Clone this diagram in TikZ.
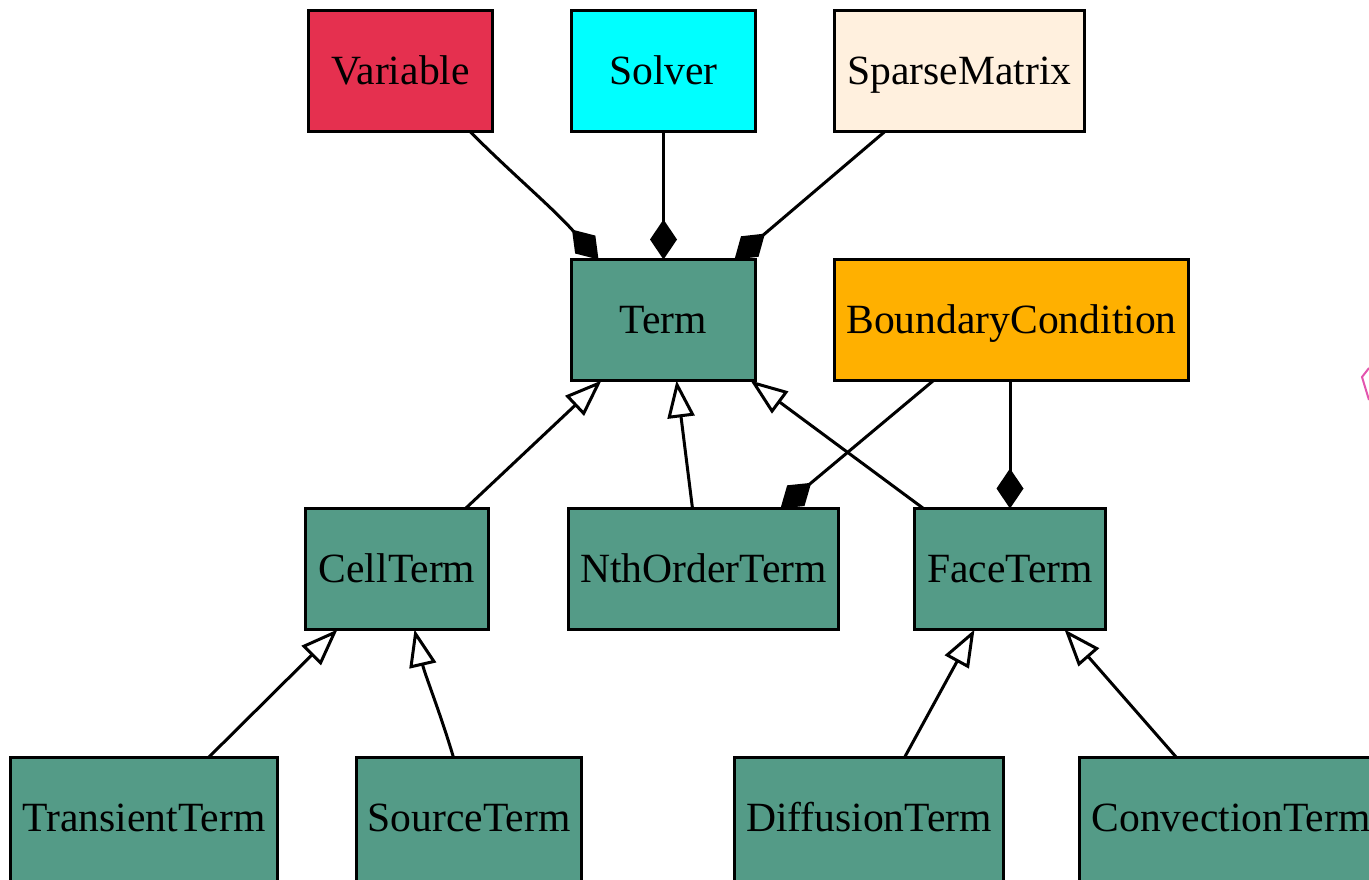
\documentclass[tikz,border=0pt]{standalone}
\usepackage{fontspec}
\setmainfont{Liberation Serif}
\usetikzlibrary{arrows.meta,calc,backgrounds}

\definecolor{termgreen}{HTML}{549B87}
\definecolor{varred}{HTML}{E5304F}
\definecolor{solvcyan}{HTML}{00FFFF}
\definecolor{sparsecream}{HTML}{FFF0DE}
\definecolor{bcorange}{HTML}{FFB000}
\definecolor{markpink}{HTML}{E354AE}

\tikzset{
  classbox/.style={draw=black, line width=3pt, inner sep=0pt, outer sep=0pt,
    minimum height=121pt, text height=27pt, text depth=0pt,
    font=\fontsize{41.6}{48}\selectfont},
  termbox/.style={classbox, fill=termgreen},
  leafbox/.style={termbox, minimum height=130pt, text depth=9pt},
  link/.style={line width=3pt, black},
  owns/.style={link, -{Diamond[length=40pt,width=27pt]}},
  isa/.style={link, -{Triangle[open,length=37pt,width=27pt,line width=3pt]}}
}

\begin{document}
\begin{tikzpicture}[x=1pt,y=-1pt]
  \path[use as bounding box, clip] (0,0) rectangle (1369,879);

  % collaborators
  \node[classbox, fill=varred, minimum width=184pt] (var) at (400.5,70.5) {Variable};
  \node[classbox, fill=solvcyan, minimum width=184pt] (solver) at (663.5,70.5) {Solver};
  \node[classbox, fill=sparsecream, minimum width=250pt] (sparse) at (959.5,70.5) {SparseMatrix};

  % term hierarchy
  \node[termbox, minimum width=184pt] (term) at (663.5,320) {Term};
  \node[classbox, fill=bcorange, minimum width=354pt] (bc) at (1011.5,320) {BoundaryCondition};
  \node[termbox, minimum width=183pt] (cell) at (397,569) {CellTerm};
  \node[termbox, minimum width=270pt] (nth) at (703.5,569) {NthOrderTerm};
  \node[termbox, minimum width=191pt] (face) at (1010,569) {FaceTerm};
  \node[leafbox, minimum width=267pt] (trans) at (144,822.5) {TransientTerm};
  \node[leafbox, minimum width=225pt] (src) at (469,822.5) {SourceTerm};
  \node[leafbox, minimum width=269pt] (diff) at (869,822.5) {DiffusionTerm};
  \node[leafbox, minimum width=303pt] (conv) at (1231,822.5) {ConvectionTerm};

  \begin{pgfonlayer}{background}
    % composition links
    \draw[owns] ($(var.south west)+(161,0)$) .. controls (510,172) and (552,207) .. ($(term.north west)+(27,0)$);
    \draw[owns] (solver.south) -- (term.north);
    \draw[owns] ($(sparse.south west)+(51,0)$) -- ($(term.north east)+(-21,0)$);
    \draw[owns] (face.north |- bc.south) -- (face.north);
    \draw[owns] ($(bc.south west)+(99,0)$) -- ($(nth.north west)+(212,0)$);

    % inheritance links
    \draw[isa] ($(cell.north west)+(160,0)$) -- ($(term.south west)+(30,0)$);
    \draw[isa] ($(nth.north west)+(124,0)$) -- ($(term.south west)+(105,0)$);
    \draw[isa] ($(face.north west)+(9,0)$) -- ($(term.south east)+(-5,0)$);
    \draw[isa] ($(trans.north west)+(198,0)$) -- ($(cell.south west)+(32,0)$);
    \draw[isa] ($(src.north west)+(97,0)$) .. controls (440,712) and (425,675) .. ($(cell.south west)+(109,0)$);
    \draw[isa] ($(diff.north west)+(170,0)$) -- ($(face.south west)+(60,0)$);
    \draw[isa] ($(conv.north west)+(97,0)$) -- ($(face.south west)+(150,0)$);
  \end{pgfonlayer}

  % partial outline at the right margin
  \draw[markpink, line width=2pt, line join=miter] (1369,368) -- (1362,377) -- (1369,400);
\end{tikzpicture}
\end{document}
